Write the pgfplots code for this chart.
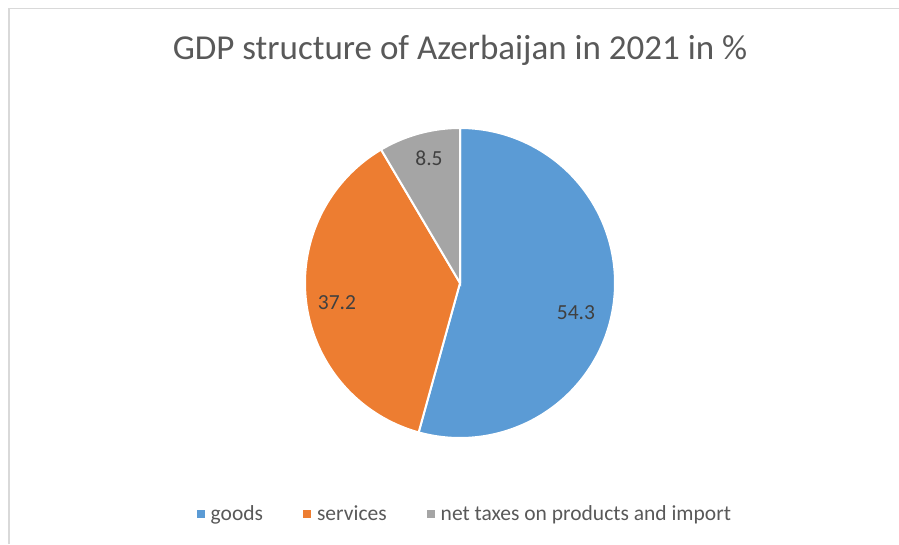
\documentclass[border=0pt]{standalone}
\usepackage{pgfplots}
\pgfplotsset{compat=1.18}
\usepackage{fontspec}
\setmainfont{Carlito}
\definecolor{cgoods}{RGB}{91,155,213}
\definecolor{cserv}{RGB}{237,125,49}
\definecolor{ctax}{RGB}{165,165,165}
\definecolor{ctitle}{RGB}{89,89,89}
\definecolor{clabel}{RGB}{64,64,64}
\definecolor{cframe}{RGB}{217,217,217}
% shares in %
\def\vgoods{54.3}
\def\vserv{37.2}
\def\vtax{8.5}
\begin{document}
\begin{tikzpicture}
\path[use as bounding box, fill=white] (0,0) rectangle (899pt,544pt);
\draw[cframe, line width=1.2pt] (9pt,0) -- (9pt,535.5pt) -- (899pt,535.5pt);
\node[font=\fontsize{35}{40}\selectfont, text=ctitle] at (460pt,494pt)
  {GDP structure of Azerbaijan in 2021 in \%};
\pgfmathsetmacro\aA{90-3.6*\vgoods}
\pgfmathsetmacro\aB{\aA-3.6*\vserv}
\pgfmathsetmacro\aC{\aB-3.6*\vtax}
\begin{axis}[
  at={(460pt,261pt)}, anchor=origin,
  x=155pt, y=155pt,
  xmin=-1.05, xmax=1.05, ymin=-1.05, ymax=1.05,
  hide axis, clip=false,
  legend columns=3,
  legend style={draw=none, fill=none, at={(0.515,-0.21)}, anchor=center,
    font=\fontsize{21.5}{25}\selectfont, text=ctitle,
    /tikz/every even column/.append style={column sep=38pt}},
  legend image code/.code={\fill[#1,draw=none] (0pt,-4pt) rectangle (8pt,4pt);
    \path (11pt,0);},
]
\addplot[fill=cgoods, draw=white, line width=2pt, domain=\aA:90, samples=150]
  ({cos(x)},{sin(x)}) -- (0,0) -- cycle;
\addlegendentry{goods}
\addplot[fill=cserv, draw=white, line width=2pt, domain=\aB:\aA, samples=120]
  ({cos(x)},{sin(x)}) -- (0,0) -- cycle;
\addlegendentry{services}
\addplot[fill=ctax, draw=white, line width=2pt, domain=\aC:\aB, samples=40]
  ({cos(x)},{sin(x)}) -- (0,0) -- cycle;
\addlegendentry{net taxes on products and import}
\begin{scope}[every node/.style={font=\fontsize{21.5}{25}\selectfont, text=clabel}]
\node at (axis cs:0.748,-0.194) {54.3};
\node at (axis cs:-0.794,-0.129) {37.2};
\node at (axis cs:-0.2,0.806) {8.5};
\end{scope}
\end{axis}
\end{tikzpicture}
\end{document}
